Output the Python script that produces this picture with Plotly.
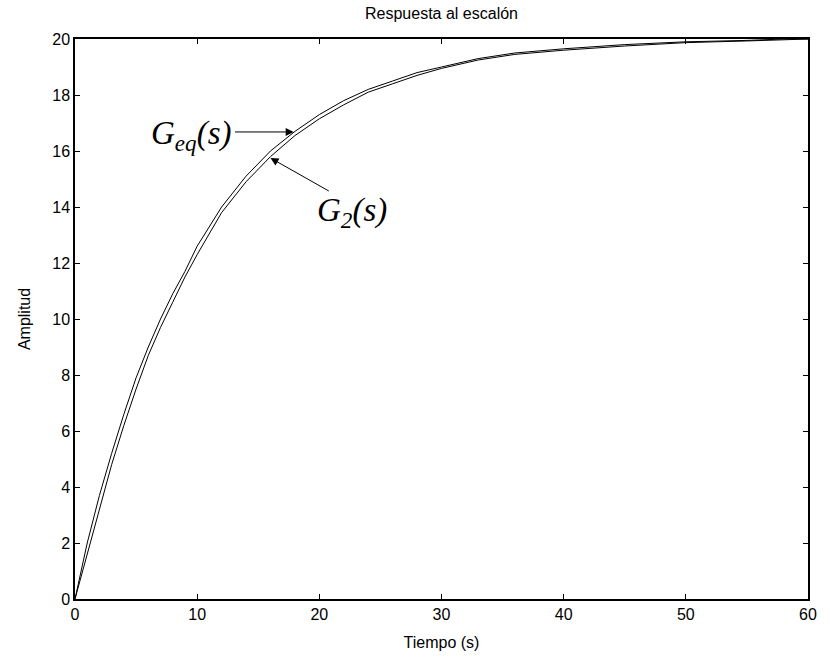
import plotly.graph_objects as go

# Time samples (s)
t = [0, 1, 2, 3, 4, 5, 6, 7, 8, 9, 10, 12, 14, 16, 18, 20, 22, 24, 26, 28, 30,
     33, 36, 40, 45, 50, 55, 58, 60]
# Step response of G_eq(s)
g_eq = [0, 2.0, 3.7, 5.2, 6.6, 7.9, 9.0, 10.0, 10.9, 11.7, 12.6, 14.0, 15.1, 16.0,
        16.7, 17.3, 17.8, 18.2, 18.5, 18.8, 19.0, 19.3, 19.5, 19.65, 19.8, 19.9,
        19.95, 20.0, 20.0]
# Step response of G_2(s)
g_2 = [0, 1.6, 3.3, 4.8, 6.2, 7.5, 8.7, 9.7, 10.6, 11.5, 12.3, 13.8, 14.9, 15.8,
       16.55, 17.15, 17.65, 18.1, 18.4, 18.7, 18.95, 19.25, 19.45, 19.6, 19.75,
       19.87, 19.93, 19.98, 20.0]

x_ticks = [0, 10, 20, 30, 40, 50, 60]
y_ticks = [0, 2, 4, 6, 8, 10, 12, 14, 16, 18, 20]

fig = go.Figure()
fig.add_trace(go.Scatter(x=t, y=g_eq, mode="lines",
                         line=dict(color="black", width=1), showlegend=False))
fig.add_trace(go.Scatter(x=t, y=g_2, mode="lines",
                         line=dict(color="black", width=1), showlegend=False))

lab_font = dict(family="Liberation Serif, Times New Roman, serif", size=33, color="black")

# Arrows
fig.add_annotation(x=17.9, y=16.68, ax=12.97, ay=16.68, xref="x", yref="y",
                   axref="x", ayref="y", text="", showarrow=True,
                   arrowhead=2, arrowsize=1.6, arrowwidth=1, arrowcolor="black")
fig.add_annotation(x=16.0, y=15.75, ax=20.9, ay=14.54, xref="x", yref="y",
                   axref="x", ayref="y", text="", showarrow=True,
                   arrowhead=2, arrowsize=1.6, arrowwidth=1, arrowcolor="black")
# Labels
fig.add_annotation(x=12.9, y=16.55, xref="x", yref="y", xanchor="right",
                   yanchor="middle", showarrow=False,
                   text="<i>G<sub>eq</sub>(s)</i>", font=lab_font)
fig.add_annotation(x=22.7, y=13.8, xref="x", yref="y", xanchor="center",
                   yanchor="middle", showarrow=False,
                   text="<i>G<sub>2</sub>(s)</i>", font=lab_font)

fig.update_layout(
    width=830, height=658,
    margin=dict(l=75, r=22, t=39, b=59),
    paper_bgcolor="white", plot_bgcolor="white",
    font=dict(family="Liberation Sans, Arial, sans-serif", size=16, color="black"),
    title=dict(text="Respuesta al escalón", x=0.5, xref="paper", xanchor="center",
               y=1 - 13 / 658, yref="container", yanchor="middle",
               font=dict(size=16)),
)
fig.update_xaxes(range=[0, 60], tickvals=x_ticks, ticks="inside", ticklen=5,
                 tickwidth=1, tickcolor="black", showline=True, linecolor="black",
                 linewidth=1.5, mirror="ticks", showgrid=False, zeroline=False,
                 tickfont=dict(size=16), automargin=False,
                 title=dict(text="Tiempo (s)", standoff=15, font=dict(size=16)))
fig.update_yaxes(range=[0, 20], tickvals=y_ticks, ticks="inside", ticklen=5,
                 tickwidth=1, tickcolor="black", showline=True, linecolor="black",
                 linewidth=1.5, mirror="ticks", showgrid=False, zeroline=False,
                 tickfont=dict(size=16), automargin=False,
                 title=dict(text="Amplitud", standoff=18, font=dict(size=16)))

fig.write_html("out.html")
